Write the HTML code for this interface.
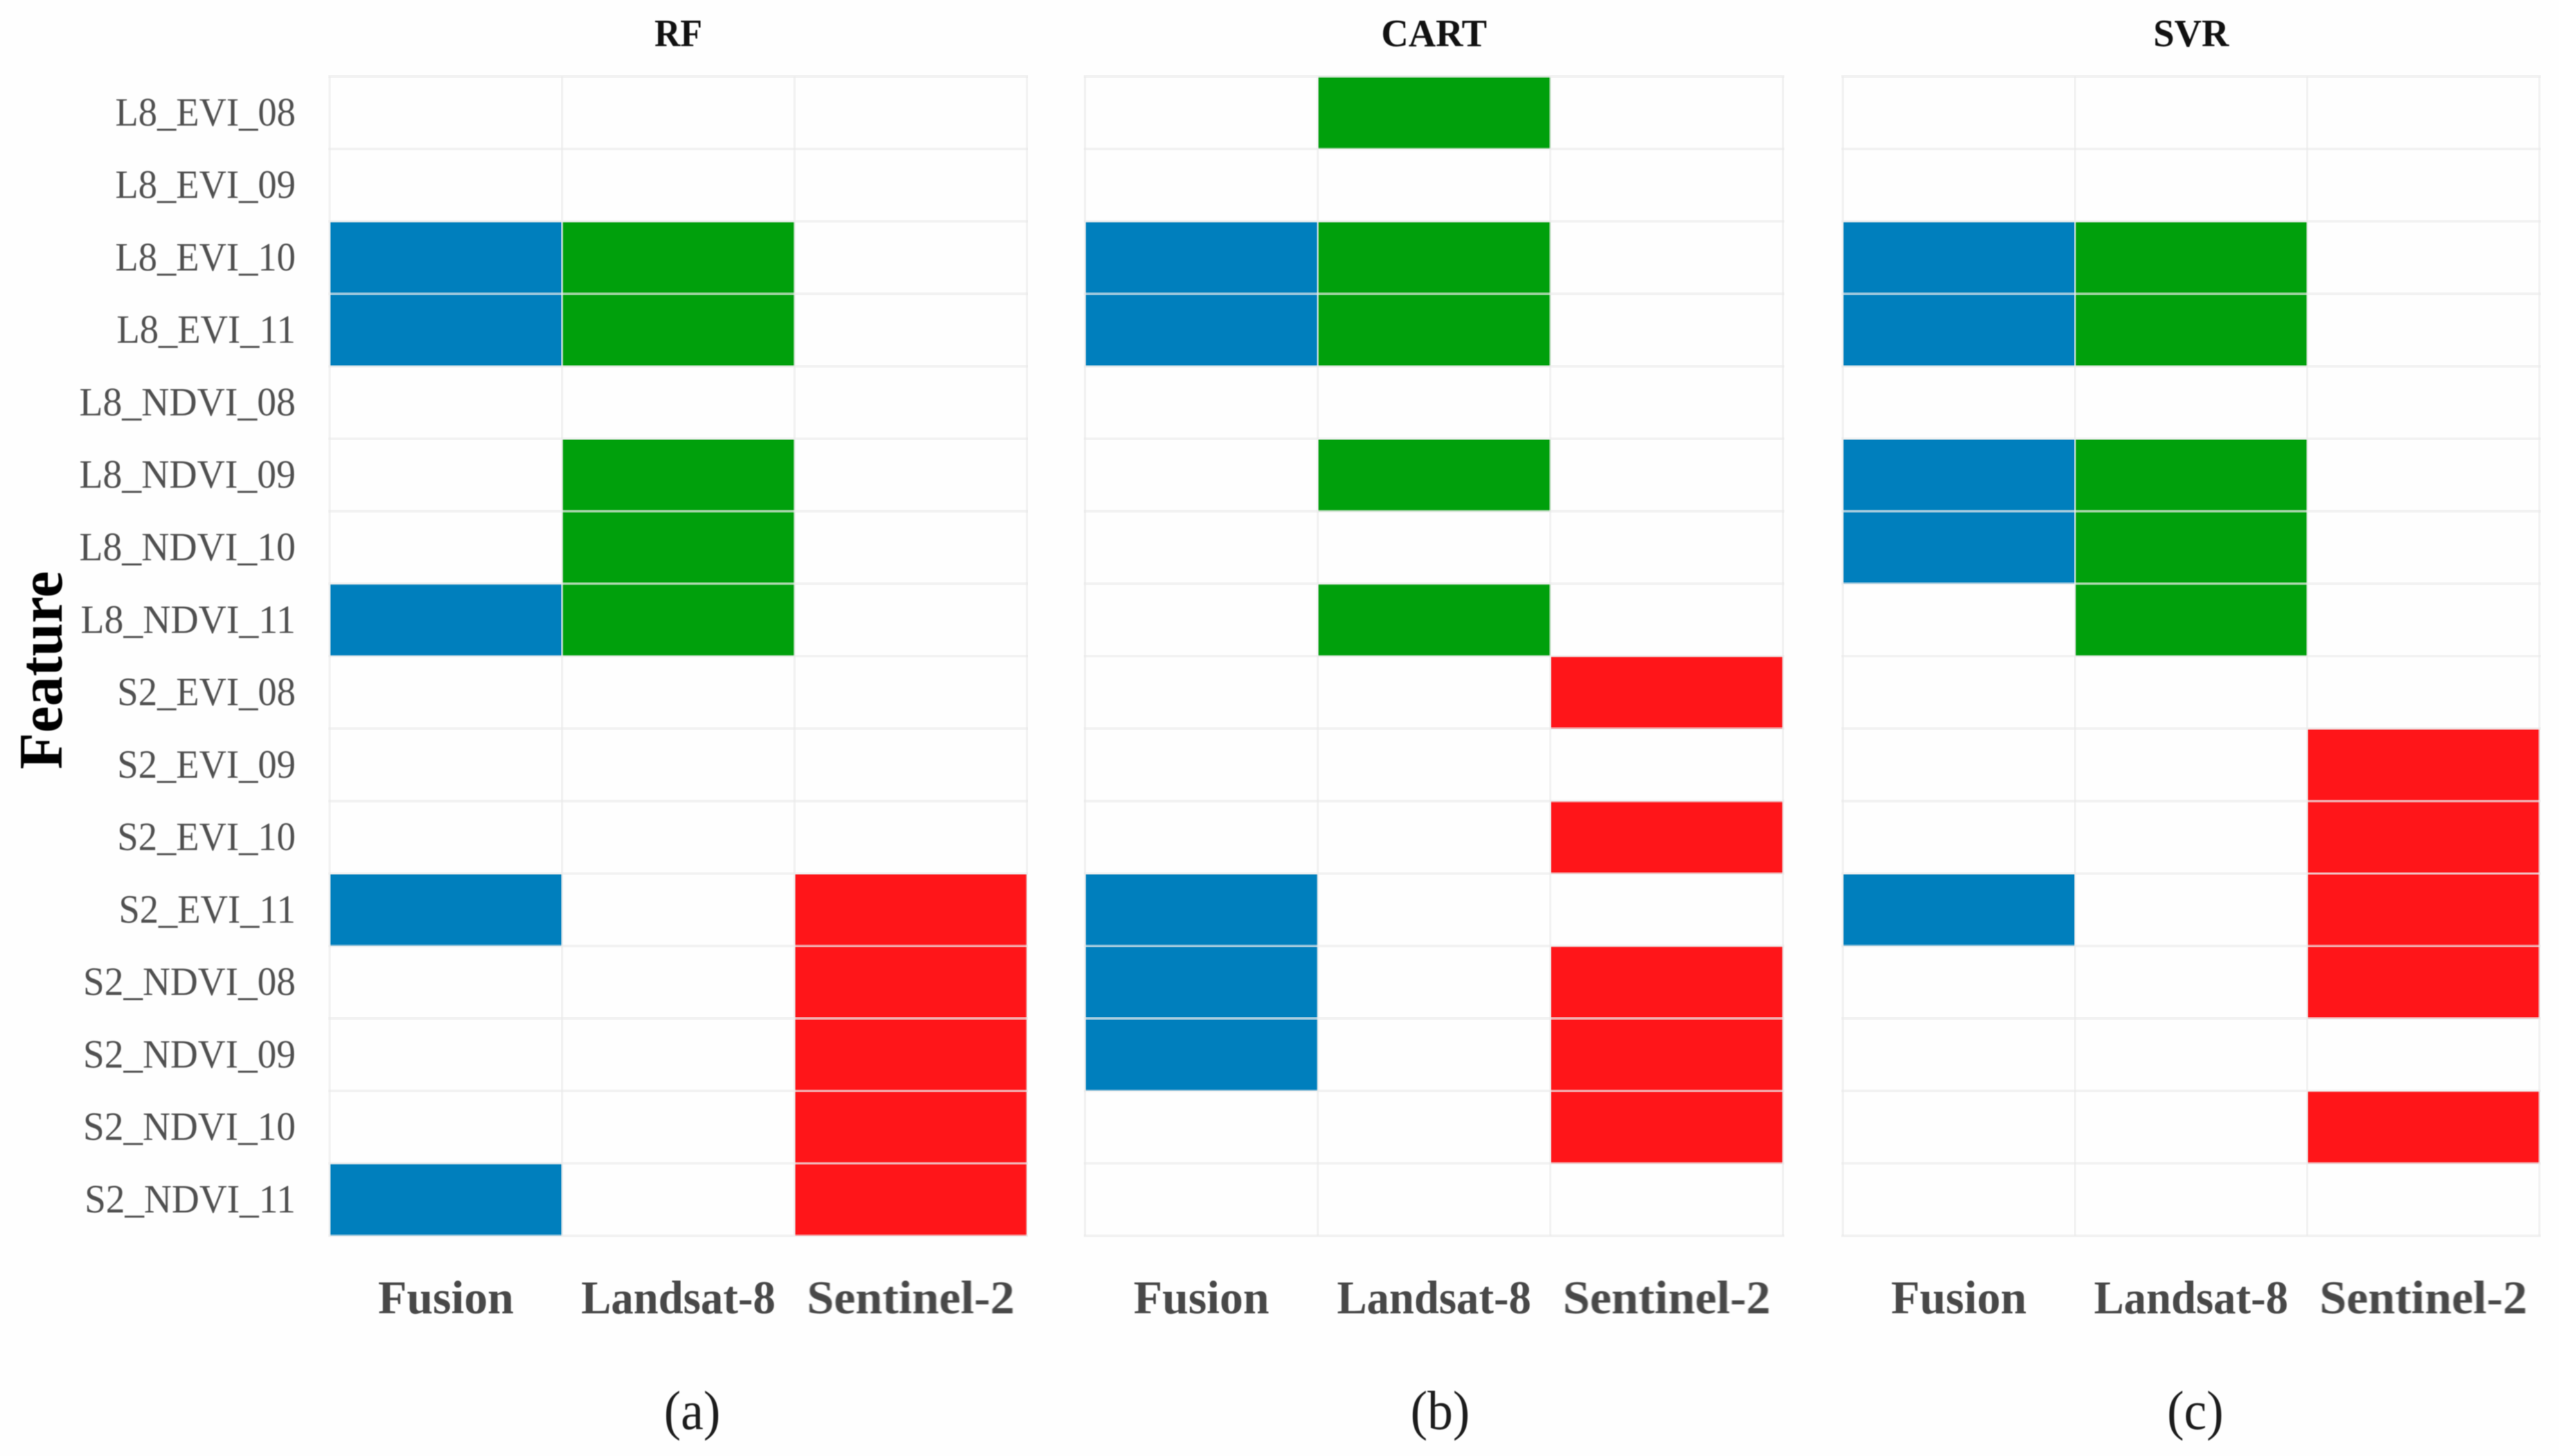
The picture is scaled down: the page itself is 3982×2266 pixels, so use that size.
<!DOCTYPE html>
<html lang="en">
<head>
<meta charset="utf-8">
<title>Feature selection heatmaps</title>
<style>
  html, body { margin: 0; padding: 0; background: #fefefe; }
  body { width: 3982px; height: 2266px; overflow: hidden; }
  svg { display: block; }
  text { font-family: "Liberation Serif", "DejaVu Serif", serif; }
  .soft { filter: blur(0.9px); }
</style>
</head>
<body>
<svg id="chart" xmlns="http://www.w3.org/2000/svg" width="3982" height="2266" viewBox="0 0 3982 2266">
  <rect x="0" y="0" width="3982" height="2266" fill="#fefefe"></rect>
  <text class="soft" transform="translate(96 1043) rotate(-90) scale(0.97 1)" text-anchor="middle" font-size="96" font-weight="700" fill="#000">Feature</text>
</svg>
<script>
const features = ["L8_EVI_08","L8_EVI_09","L8_EVI_10","L8_EVI_11","L8_NDVI_08","L8_NDVI_09","L8_NDVI_10","L8_NDVI_11","S2_EVI_08","S2_EVI_09","S2_EVI_10","S2_EVI_11","S2_NDVI_08","S2_NDVI_09","S2_NDVI_10","S2_NDVI_11"];
const sources = ["Fusion","Landsat-8","Sentinel-2"];
const models = ["RF","CART","SVR"];
const captions = ["(a)","(b)","(c)"];

/* 1 = feature selected, one value per feature row */
const rfFusion     = [0,0,1,1,0,0,0,1,0,0,0,1,0,0,0,1];
const rfLandsat    = [0,0,1,1,0,1,1,1,0,0,0,0,0,0,0,0];
const rfSentinel   = [0,0,0,0,0,0,0,0,0,0,0,1,1,1,1,1];
const cartFusion   = [0,0,1,1,0,0,0,0,0,0,0,1,1,1,0,0];
const cartLandsat  = [1,0,1,1,0,1,0,1,0,0,0,0,0,0,0,0];
const cartSentinel = [0,0,0,0,0,0,0,0,1,0,1,0,1,1,1,0];
const svrFusion    = [0,0,1,1,0,1,1,0,0,0,0,1,0,0,0,0];
const svrLandsat   = [0,0,1,1,0,1,1,1,0,0,0,0,0,0,0,0];
const svrSentinel  = [0,0,0,0,0,0,0,0,0,1,1,1,1,0,1,0];

const rfSeries = [rfFusion, rfLandsat, rfSentinel];
const cartSeries = [cartFusion, cartLandsat, cartSentinel];
const svrSeries = [svrFusion, svrLandsat, svrSentinel];
const modelSeries = [rfSeries, cartSeries, svrSeries];

const NS = "http://www.w3.org/2000/svg";
const svg = document.getElementById("chart");
const sourceColor = ["#007fbd", "#00a00c", "#ff1519"];
const sourceStretch = [1, 0.955, 1.035];
const panelLeft = [513, 1688.5, 2867.4];
const panelWidth = [1085, 1086, 1084.2];
const plotTop = 119;
const rowHeight = 112.77;
const captionX = [1077, 2241, 3416];

function colWidth(panel) { return panelWidth[panel] / sources.length; }
function xBand(panel, col) { return panelLeft[panel] + col * colWidth(panel); }
function yBand(row) { return plotTop + row * rowHeight; }
function slug(s) { return s.toLowerCase().replace(/[^a-z0-9]+/g, "-"); }
function featureStretch(name) {
  if (name.indexOf("EVI") >= 0 && name.indexOf("NDVI") < 0) return 0.948;
  return name.indexOf("S2") === 0 ? 0.96 : 0.968;
}

function addText(content, tx, ty, size, weight, fill, anchor, sx) {
  const t = document.createElementNS(NS, "text");
  t.setAttribute("transform", "translate(" + tx + " " + ty + ") scale(" + sx + " 1)");
  t.setAttribute("font-size", size);
  t.setAttribute("font-weight", weight);
  t.setAttribute("fill", fill);
  t.setAttribute("text-anchor", anchor);
  t.setAttribute("class", "soft");
  t.textContent = content;
  svg.appendChild(t);
  return t;
}

function addLine(x1, y1, x2, y2, width) {
  const l = document.createElementNS(NS, "line");
  l.setAttribute("x1", x1);
  l.setAttribute("y1", y1);
  l.setAttribute("x2", x2);
  l.setAttribute("y2", y2);
  l.setAttribute("stroke", "#eaeaea");
  l.setAttribute("stroke-opacity", "0.6");
  l.setAttribute("stroke-width", width);
  svg.appendChild(l);
  return l;
}

models.forEach(function (model, p) {
  const series = modelSeries[p];

  series.forEach(function (values, c) {
    values.forEach(function (v, r) {
      if (!v) return;
      const cell = document.createElementNS(NS, "rect");
      cell.setAttribute("x", xBand(p, c) + 0.5);
      cell.setAttribute("y", yBand(r) + 0.5);
      cell.setAttribute("width", colWidth(p) - 0.5);
      cell.setAttribute("height", rowHeight - 0.5);
      cell.setAttribute("fill", sourceColor[c]);
      
      
      svg.appendChild(cell);
    });
  });

  for (let r = 0; r <= features.length; r++) {
    const h = addLine(panelLeft[p] - 2, yBand(r), panelLeft[p] + panelWidth[p] + 2, yBand(r), 4);
    
    
  }
  for (let c = 0; c <= sources.length; c++) {
    const v = addLine(xBand(p, c), plotTop, xBand(p, c), yBand(features.length), 3.4);
    
    
  }

  const title = addText(model, panelLeft[p] + panelWidth[p] / 2, 72, 60, 700, "#111", "middle", model === "RF" ? 0.93 : 0.98);
  
  

  sources.forEach(function (src, c) {
    const lab = addText(src, xBand(p, c) + colWidth(p) / 2, 2044, 73, 700, "#484848", "middle", sourceStretch[c]);
    
    
  });

  const cap = addText(captions[p], captionX[p], 2224, 86, 400, "#1c1c1c", "middle", 0.92);
  
  
});

features.forEach(function (f, r) {
  const lab = addText(f, 460, yBand(r) + rowHeight / 2 + 20, 62, 400, "#505050", "end", featureStretch(f));
  
  
});
</script>
</body>
</html>
